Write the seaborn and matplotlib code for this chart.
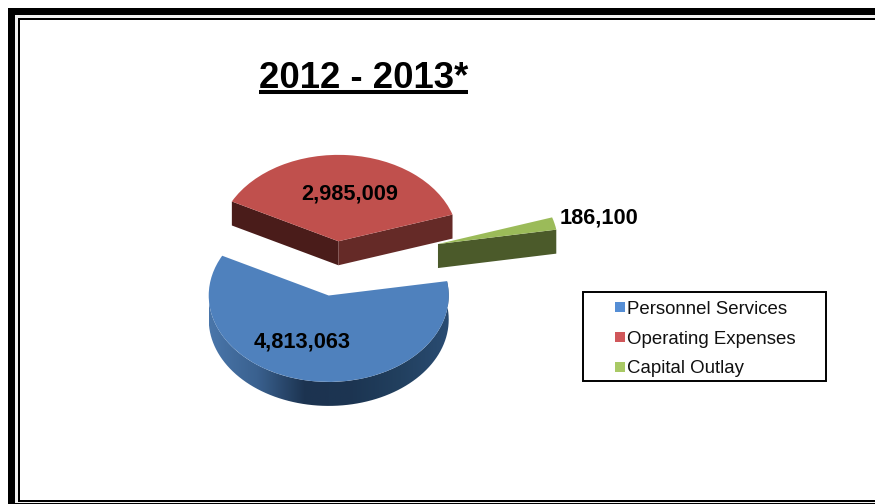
import numpy as np
import matplotlib
matplotlib.use("Agg")
import matplotlib.pyplot as plt
from matplotlib.colors import LinearSegmentedColormap
from matplotlib.patches import PathPatch, Polygon, Rectangle
from matplotlib.path import Path
import seaborn as sns

# Budget figures
categories = ["Personnel Services", "Operating Expenses", "Capital Outlay"]
amounts = [4813063, 2985009, 186100]
value_labels = ["4,813,063", "2,985,009", "186,100"]
title_text = "2012 - 2013*"

top_colors = ["#4f81bd", "#c0504d", "#9bbb59"]
key_colors = ["#558ed5", "#d0575a", "#a9c965"]

SQUASH = 0.72      # tilt of the pie plane
DEPTH = 24 / SQUASH
RADIUS = 120
CENTER = (336, 336)
EXPLODE = [47, 29, 105]
START = 9.6

sns.set_theme(style="white")
plt.rcParams["font.family"] = ["Liberation Sans", "DejaVu Sans"]

fig = plt.figure(figsize=(8.75, 5.04), dpi=100, facecolor="white")

# Double page border, open past the right edge
frame = fig.add_axes([0, 0, 1, 1], zorder=0)
frame.set_xlim(0, 875)
frame.set_ylim(504, 0)
frame.axis("off")
frame.add_patch(Rectangle((8, 8), 900, 600, facecolor="black", edgecolor="none"))
frame.add_patch(Rectangle((15, 15), 900, 600, facecolor="#f2f2f2", edgecolor="none"))
frame.add_patch(Rectangle((18, 18), 900, 483.5, facecolor="black", edgecolor="none"))
frame.add_patch(Rectangle((20, 20), 900, 480, facecolor="white", edgecolor="none"))
frame.add_patch(Rectangle((15, 503), 900, 2, facecolor="black", edgecolor="none"))

# Tilted pie plane
ax = fig.add_axes([0, 0, 1, 1], zorder=1)
wedges, _ = ax.pie(amounts, explode=EXPLODE, colors=top_colors, radius=RADIUS,
                   center=CENTER, startangle=START, counterclock=False,
                   wedgeprops={"linewidth": 0, "zorder": 3})


def rim(wedge, angle):
    """Point on the wedge's outer edge at the given angle."""
    a = np.radians(angle)
    return (wedge.center[0] + wedge.r * np.cos(a),
            wedge.center[1] + wedge.r * np.sin(a))


def radial_face(wedge, angle, color):
    """Vertical cut face below one straight edge of a wedge."""
    x0, y0 = wedge.center
    x1, y1 = rim(wedge, angle)
    ax.add_patch(Polygon([(x0, y0), (x1, y1), (x1, y1 - DEPTH), (x0, y0 - DEPTH)],
                         closed=True, facecolor=color, edgecolor="none", zorder=2))


blue, red, green = wedges

# Blue rim, shaded from left to right
angles = np.linspace(-180, blue.theta2, 160)
upper = np.array([rim(blue, a) for a in angles])
lower = upper - np.array([0, DEPTH])
rim_path = Path(np.vstack([upper, lower[::-1], upper[:1]]), closed=False)
rim_patch = PathPatch(rim_path, facecolor="none", edgecolor="none", zorder=2)
ax.add_patch(rim_patch)
rim_cmap = LinearSegmentedColormap.from_list(
    "rim", ["#4a76aa", "#3a618f", "#1c3350", "#1c3552", "#22405f", "#2a4c72"])
shade = ax.imshow(np.linspace(0, 1, 256)[None, :], cmap=rim_cmap, aspect="auto",
                  extent=(blue.center[0] - RADIUS, blue.center[0] + RADIUS,
                          blue.center[1] - RADIUS - DEPTH, blue.center[1] + RADIUS),
                  zorder=2)
shade.set_clip_path(rim_patch)

# Red and green cut faces
radial_face(red, red.theta2, "#4a1c1a")
radial_face(red, red.theta1, "#652a27")
radial_face(green, green.theta1, "#4b5a2a")

ax.set_aspect("auto")
ax.set_xlim(0, 875)
ax.set_ylim(0, 504 / SQUASH)
ax.axis("off")

# Page layer in pixel-style coordinates for the text and key
page = fig.add_axes([0, 0, 1, 1], zorder=5)
page.patch.set_alpha(0)
page.set_xlim(0, 875)
page.set_ylim(504, 0)
page.axis("off")

# Title with its rule
page.text(259, 88, title_text, fontsize=26.3, fontweight="bold", color="black",
          ha="left", va="baseline")
page.plot([259, 468], [92.2, 92.2], color="black", linewidth=2.9, solid_capstyle="butt")

# Value labels
label_spots = [(302, 342), (350, 194), (599, 218)]
for text, (x, y) in zip(value_labels, label_spots):
    page.text(x, y, text, fontsize=15.7, fontweight="bold", color="black",
              ha="center", va="center")

# Key
page.add_patch(Rectangle((583, 292), 243, 89, facecolor="white", edgecolor="black", linewidth=1.4))
handles = [Rectangle((0, 0), 1, 1, facecolor=c, edgecolor="none") for c in key_colors]
page.legend(handles, categories, loc="upper left", bbox_to_anchor=(615 / 875, 1 - 301 / 504),
            frameon=False, fontsize=13.4, borderaxespad=0, borderpad=0,
            handlelength=0.55, handleheight=0.45, handletextpad=0.12, labelspacing=0.68,
            labelcolor="#111111")

fig.savefig("out.png", dpi=100)
